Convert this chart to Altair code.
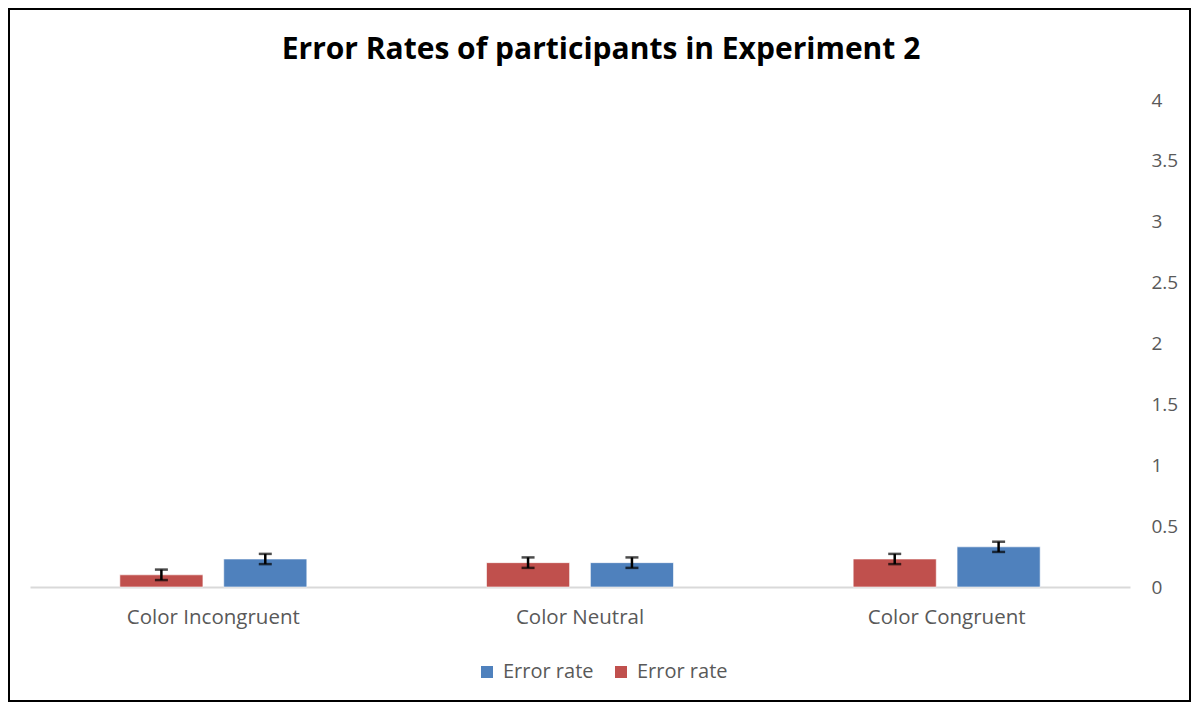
import altair as alt
import pandas as pd

categories = ["Color Incongruent", "Color Neutral", "Color Congruent"]
red_values = [0.10, 0.20, 0.23]
blue_values = [0.23, 0.20, 0.33]
red_err = [0.043, 0.043, 0.042]
blue_err = [0.042, 0.043, 0.042]
series_keys = ["blue", "red"]          # legend order
offset_order = ["red", "blue"]         # bar order within a group
series_colors = ["#4F81BD", "#C0504D"]
y_ticks = [0, 0.5, 1, 1.5, 2, 2.5, 3, 3.5, 4]
title_text = "Error Rates of participants in Experiment 2"

rows = []
for c, v, e in zip(categories, red_values, red_err):
    rows.append({"cat": c, "series": "red", "value": v, "lo": v - e, "hi": v + e})
for c, v, e in zip(categories, blue_values, blue_err):
    rows.append({"cat": c, "series": "blue", "value": v, "lo": v - e, "hi": v + e})
df = pd.DataFrame(rows)

FONT = "Open Sans"
GRAY = "#595959"

x_enc = alt.X("cat:N", sort=categories, title=None,
              scale=alt.Scale(paddingInner=0.49, paddingOuter=0.245),
              axis=alt.Axis(labelAngle=0, ticks=False, domainColor="#d9d9d9", domainWidth=2,
                            labelColor=GRAY, labelFontSize=20.5, labelFont=FONT, labelPadding=20,
                            grid=False))
xo_enc = alt.XOffset("series:N", sort=offset_order,
                     scale=alt.Scale(paddingInner=0.2, paddingOuter=0))
y_scale = alt.Scale(domain=[0, 4], nice=False)

bars = alt.Chart(df).mark_bar(stroke="#ffffff", strokeOpacity=0.6, strokeWidth=1).encode(
    x=x_enc,
    xOffset=xo_enc,
    y=alt.Y("value:Q", scale=y_scale, title=None,
            axis=alt.Axis(orient="right", values=y_ticks, format="~g", ticks=False, domain=False,
                          grid=False, labelColor=GRAY, labelFontSize=19, labelFont=FONT,
                          labelPadding=21, labelAlign="left")),
    color=alt.Color("series:N", scale=alt.Scale(domain=series_keys, range=series_colors),
                    legend=alt.Legend(orient="none", legendX=447, legendY=562, direction="horizontal",
                                      title=None, labelExpr="'Error rate'", symbolType="square",
                                      symbolSize=144, symbolStrokeWidth=0, labelFont=FONT,
                                      labelFontSize=20, labelColor=GRAY, columnPadding=17,
                                      labelOffset=6)),
)

rules = alt.Chart(df).mark_rule(color="black", strokeWidth=2.5).encode(
    x=alt.X("cat:N", sort=categories), xOffset=xo_enc,
    y=alt.Y("lo:Q", scale=y_scale), y2="hi:Q")

caps_lo = alt.Chart(df).mark_tick(color="black", thickness=2.5, size=13).encode(
    x=alt.X("cat:N", sort=categories), xOffset=xo_enc, y=alt.Y("lo:Q", scale=y_scale))
caps_hi = alt.Chart(df).mark_tick(color="black", thickness=2.5, size=13).encode(
    x=alt.X("cat:N", sort=categories), xOffset=xo_enc, y=alt.Y("hi:Q", scale=y_scale))

frame = alt.Chart(df).mark_rect(fill=None, stroke="black", strokeWidth=2).encode(
    x=alt.value(-21), x2=alt.value(1160), y=alt.value(-91), y2=alt.value(601))

title_df = pd.DataFrame({"t": [title_text]})
title = alt.Chart(title_df).mark_text(font=FONT, fontSize=30, fontWeight="bold", color="black",
                                      align="center", baseline="alphabetic").encode(
    text="t:N", x=alt.value(571), y=alt.value(-41))

chart = alt.layer(bars, rules, caps_lo, caps_hi, frame, title).properties(
    width=1100, height=487,
    autosize=alt.AutoSizeParams(type="none"),
    padding={"left": 22, "top": 92, "right": 62, "bottom": 116},
).configure_view(stroke=None)

chart.save("out.html", embed_options={"renderer": "svg", "actions": False})
